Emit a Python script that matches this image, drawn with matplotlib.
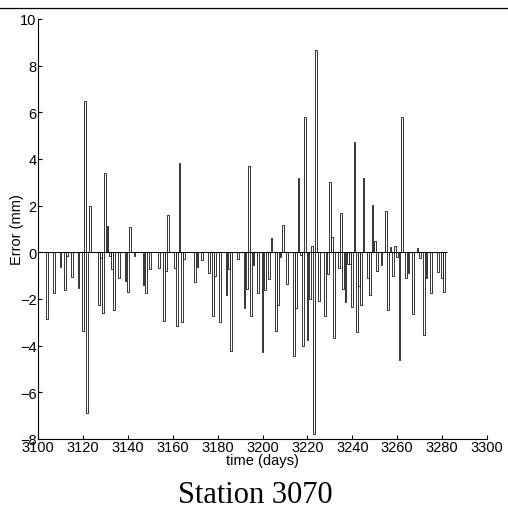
import matplotlib
matplotlib.use("Agg")
import matplotlib.pyplot as plt
from matplotlib.lines import Line2D

# daily position error, days with a nonzero value
days = [3104, 3107, 3110, 3112, 3113, 3115, 3118, 3120, 3121, 3122,
        3123, 3127, 3128, 3129, 3130, 3131, 3132, 3133, 3134, 3136,
        3139, 3140, 3141, 3143, 3147, 3148, 3150, 3154, 3156, 3157,
        3158, 3161, 3162, 3163, 3164, 3165, 3170, 3171, 3173, 3176,
        3178, 3179, 3181, 3184, 3185, 3186, 3189, 3192, 3193, 3194,
        3195, 3196, 3198, 3200, 3201, 3203, 3204, 3206, 3207, 3208,
        3209, 3211, 3214, 3215, 3216, 3217, 3218, 3219, 3220, 3221,
        3222, 3223, 3224, 3225, 3228, 3229, 3230, 3231, 3232, 3234,
        3235, 3236, 3237, 3238, 3239, 3240, 3241, 3242, 3243, 3244,
        3245, 3247, 3248, 3249, 3250, 3251, 3253, 3255, 3256, 3257,
        3258, 3259, 3260, 3261, 3262, 3264, 3265, 3267, 3269, 3270,
        3272, 3273, 3275, 3278, 3280, 3281]
errors = [-2.86, -1.74, -0.64, -1.61, -0.15, -1.07, -1.54, -3.36, 6.5, -6.89,
          2.0, -2.26, -0.25, -2.61, 3.39, 1.14, -0.15, -0.71, -2.46, -1.1,
          -1.21, -1.71, 1.07, -0.15, -1.4, -1.74, -0.71, -0.69, -2.93, -0.79,
          1.61, -0.69, -3.17, 3.81, -3.0, -0.3, -1.29, -0.64, -0.31, -0.9,
          -2.71, -1.0, -2.97, -1.81, -0.7, -4.23, -0.3, -2.4, -1.57, 3.69,
          -2.71, -0.54, -1.76, -4.29, -1.61, -1.14, 0.61, -3.39, -2.26, -0.2,
          1.19, -1.36, -4.43, -2.4, 3.17, -0.1, -4.0, 5.79, -3.74, -2.0,
          0.26, -7.79, 8.69, -2.1, -2.74, -0.93, 3.0, 0.67, -3.67, -0.69,
          1.69, -1.57, -2.14, -0.5, -0.5, -2.33, 4.74, -3.43, -1.46, -2.24,
          3.17, -1.1, -1.81, 2.04, 0.47, -0.81, -0.54, 1.76, -2.46, 0.21,
          -1.0, 0.26, -0.2, -4.6, 5.81, -1.11, -0.9, -2.64, 0.17, -0.26,
          -3.53, -1.1, -1.76, -0.83, -1.1, -1.71]
first_day = 3100
last_day = 3282

fig = plt.figure(figsize=(5.08, 5.10), dpi=100)
ax = fig.add_axes([0.0748, 0.1373, 0.8839, 0.8235])

ax.hlines(0, first_day, last_day, color="black", linewidth=0.7)
ax.bar(days, errors, width=0.8, color="white", edgecolor="black", linewidth=0.55)

ax.set_xlim(3100, 3300)
ax.set_ylim(-8, 10)
ax.set_xticks(range(3100, 3301, 20))
ax.set_yticks(range(-8, 11, 2))
for s in ["top", "right"]:
    ax.spines[s].set_visible(False)
ax.spines["left"].set_linewidth(0.8)
ax.spines["bottom"].set_linewidth(0.8)
ax.tick_params(direction="in", length=3, width=0.8, pad=1, labelsize=10.5)
for lab in ax.get_xticklabels() + ax.get_yticklabels():
    lab.set_family("Liberation Sans")

ax.set_xlabel("time (days)", family="Liberation Sans", fontsize=10.5, labelpad=-1)
ax.set_ylabel("Error (mm)", family="Liberation Sans", fontsize=10.5, labelpad=-3)

fig.text(0.502, 0.028, "Station 3070", ha="center", va="center",
         family="Liberation Serif", fontsize=22)

# rule across the top of the page
fig.add_artist(Line2D([0, 1], [1 - 9 / 510, 1 - 9 / 510], color="black",
                      linewidth=0.9, transform=fig.transFigure))

fig.savefig("out.png", dpi=100)
